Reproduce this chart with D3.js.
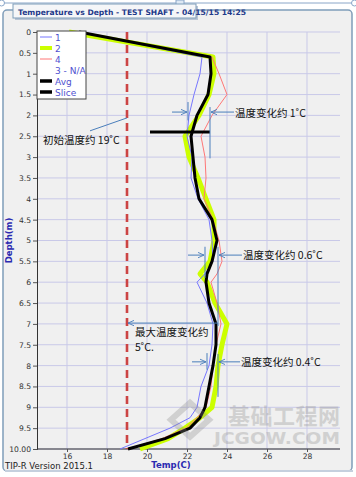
<!DOCTYPE html>
<html><head><meta charset="utf-8">
<script src="https://cdn.jsdelivr.net/npm/d3@7/dist/d3.min.js"></script>
<style>
html,body{margin:0;padding:0;background:#fff;}
svg{display:block;font-family:"DejaVu Sans",Verdana,sans-serif;}
</style></head>
<body><svg id="c" width="356" height="477"></svg>
<script>
// ---- data ----
const depths = [0, 0.6, 1.0, 1.5, 2.0, 2.5, 3.0, 3.5, 4.0, 4.5, 5.0, 5.5, 5.8, 6.0, 6.5, 7.0, 7.5, 8.0, 8.5, 9.0, 9.25, 9.5, 9.75, 10.0];
const series1 = [16.6, 22.75, 22.65, 22.35, 22.1, 22.0, 22.25, 22.2, 22.55, 23.1, 23.25, 23.3, 22.9, 22.5, 23.0, 23.3, 23.25, 23.1, 22.7, 22.5, 22.15, 21.15, 19.9, 18.65];
const series2 = [16.1, 23.3, 23.35, 23.1, 22.6, 21.9, 22.1, 22.55, 22.95, 23.35, 23.35, 23.15, 22.65, 23.0, 23.4, 24.0, 23.75, 23.55, 23.45, 23.25, 22.65, 21.9, 21.05, 19.65];
const series4 = [16.6, 23.25, 23.6, 24.0, 23.25, 22.7, 22.9, 22.95, 22.85, 23.3, 23.6, 23.75, 23.5, 23.2, 23.5, 23.7, 23.45, 23.3, 23.2, 22.95, 22.5, 21.95, 20.75, 19.05];
const avg     = [16.6, 23.15, 23.2, 23.05, 22.5, 22.2, 22.3, 22.4, 22.6, 23.25, 23.5, 23.25, 23.0, 22.95, 23.1, 23.45, 23.45, 23.3, 23.1, 22.9, 22.65, 22.15, 20.9, 19.05];
const sliceDepth = 2.4;
const sliceTemps = [20.15, 23.15];
const initialTemp = 19;
const xTicks = [16, 18, 20, 22, 24, 26, 28];
const yTicks = [0, 0.5, 1, 1.5, 2, 2.5, 3, 3.5, 4, 4.5, 5, 5.5, 6, 6.5, 7, 7.5, 8, 8.5, 9, 9.5, 10];
const legendItems = ["1", "2", "4", "3 - N/A", "Avg", "Slice"];
const titleText = "Temperature vs Depth - TEST SHAFT - 04/15/15 14:25";

const svg = d3.select("#c");
const W = 356, H = 477;
const m = {l: 37, r: 16, t: 32, b: 28};
const x = d3.scaleLinear().domain([14.5, 29.65]).range([m.l, W - m.r]);
const y = d3.scaleLinear().domain([0, 10]).range([m.t, H - m.b]);

// frame
svg.append("rect").attr("x", 0).attr("y", 0).attr("width", W).attr("height", H).attr("fill", "#fff");
svg.append("line").attr("x1", 0).attr("x2", W).attr("y1", 3).attr("y2", 3).attr("stroke", "#8aa6c8").attr("stroke-width", 1);
svg.append("rect").attr("x", 3).attr("y", 10).attr("width", 349).attr("height", 461).attr("rx", 4)
  .attr("fill", "#f0f0f0").attr("stroke", "#7f9db9").attr("stroke-width", 1.5);
svg.append("rect").attr("x", 5).attr("y", 470).attr("width", 348).attr("height", 2).attr("fill", "#c5d0de");
[[1.5, 3], [354.5, 3]].forEach(p => svg.append("circle").attr("cx", p[0]).attr("cy", p[1]).attr("r", 3).attr("fill", "#fff").attr("stroke", "#8aa6c8"));
svg.append("rect").attr("x", 176).attr("y", 0).attr("width", 8).attr("height", 7).attr("fill", "#dde8f4").attr("stroke", "#8aa6c8");

// title tab
svg.append("rect").attr("x", 15).attr("y", 6).attr("width", 183).attr("height", 14).attr("fill", "#b8c4d4");
svg.append("rect").attr("x", 13).attr("y", 4).attr("width", 183).attr("height", 14).attr("fill", "#f5f6f8").attr("stroke", "#7f9db9");
svg.append("text").attr("x", 18).attr("y", 14.5).attr("font-size", 7.6).attr("font-weight", "bold")
  .attr("fill", "#1f3a8a").text(titleText);

// gridlines
const g = svg.append("g");
g.selectAll(".hg").data(yTicks).join("line").attr("x1", m.l).attr("x2", W - m.r)
  .attr("y1", d => y(d)).attr("y2", d => y(d)).attr("stroke", "#c9c9e8").attr("stroke-width", 1);
g.selectAll(".vg").data(xTicks).join("line").attr("y1", m.t).attr("y2", H - m.b)
  .attr("x1", d => x(d)).attr("x2", d => x(d)).attr("stroke", "#c9c9e8").attr("stroke-width", 1);

// axes
const yAxis = d3.axisLeft(y).tickValues(yTicks).tickSize(4).tickPadding(2)
  .tickFormat(d => d === 10 ? "10.00" : d3.format("")(d));
const ya = svg.append("g").attr("transform", `translate(${m.l},0)`).call(yAxis);
const xAxis = d3.axisBottom(x).tickValues(xTicks).tickSize(3).tickPadding(1.5);
const xa = svg.append("g").attr("transform", `translate(0,${H - m.b})`).call(xAxis);
[ya, xa].forEach(a => {
  a.select(".domain").attr("stroke", "#333");
  a.selectAll(".tick line").attr("stroke", "#555");
  a.selectAll("text").attr("font-size", 7.6).attr("fill", "#333").attr("font-family", "DejaVu Sans, sans-serif");
});
xa.select(".domain").attr("d", `M${m.l},0H${W - m.r}`);

// axis titles
svg.append("text").attr("transform", `translate(12,${y(5)}) rotate(-90)`).attr("text-anchor", "middle")
  .attr("font-size", 8.5).attr("font-weight", "bold").attr("fill", "#2a2ab0").text("Depth(m)");
svg.append("text").attr("x", 171).attr("y", 468).attr("text-anchor", "middle")
  .attr("font-size", 8.5).attr("font-weight", "bold").attr("fill", "#2a2ab0").text("Temp(C)");
svg.append("text").attr("x", 5).attr("y", 469).attr("font-size", 8.5).attr("fill", "#222").text("TIP-R Version 2015.1");

// red dashed initial temperature
svg.append("line").attr("x1", x(initialTemp)).attr("x2", x(initialTemp)).attr("y1", y(0)).attr("y2", y(10))
  .attr("stroke", "#cc4444").attr("stroke-width", 2.6).attr("stroke-dasharray", "8,5");

// series lines
const line = vals => d3.line().x((d, i) => x(vals[i])).y(d => y(d))(depths);
svg.append("path").attr("d", line(series2)).attr("fill", "none").attr("stroke", "#ccff00").attr("stroke-width", 5).attr("stroke-linejoin", "round");
svg.append("path").attr("d", line(series1)).attr("fill", "none").attr("stroke", "#7777ff").attr("stroke-width", 1);
svg.append("path").attr("d", line(series4)).attr("fill", "none").attr("stroke", "#ff7777").attr("stroke-width", 1);
svg.append("path").attr("d", line(avg)).attr("fill", "none").attr("stroke", "#000").attr("stroke-width", 3).attr("stroke-linejoin", "round");
svg.append("line").attr("x1", x(sliceTemps[0])).attr("x2", x(sliceTemps[1])).attr("y1", y(sliceDepth)).attr("y2", y(sliceDepth))
  .attr("stroke", "#000").attr("stroke-width", 3);

// watermark
const wm = svg.append("g").attr("opacity", 0.3).attr("fill", "#888");
wm.append("path").attr("d", `M${x(21.2)},${y(9.3)} l19,-17 l19,17 l-19,17 z`).attr("fill", "none").attr("stroke", "#888").attr("stroke-width", 6);
wm.append("text").attr("x", 228).attr("y", y(9.4)).attr("font-size", 22).attr("font-weight", "bold")
  .attr("font-family", "Noto Sans CJK SC").attr("textLength", 112).text("基础工程网");
wm.append("text").attr("x", 214).attr("y", y(9.88)).attr("font-size", 15).attr("font-weight", "bold")
  .attr("font-family", "DejaVu Sans").attr("textLength", 126).attr("lengthAdjust", "spacingAndGlyphs").text("JCGOW.COM");

// legend
const lg = svg.append("g");
lg.append("rect").attr("x", 37).attr("y", 31).attr("width", 49).attr("height", 68).attr("fill", "#fff").attr("stroke", "#444");
const legStyles = [
  {c: "#7777ff", w: 1}, {c: "#ccff00", w: 4}, {c: "#ff7777", w: 1}, null, {c: "#000", w: 3.5}, {c: "#000", w: 3.5}
];
legendItems.forEach((t, i) => {
  const yy = 37 + i * 11;
  if (legStyles[i]) lg.append("line").attr("x1", 40).attr("x2", 52).attr("y1", yy).attr("y2", yy)
    .attr("stroke", legStyles[i].c).attr("stroke-width", legStyles[i].w);
  lg.append("text").attr("x", 55).attr("y", yy + 3.5).attr("font-size", 9).attr("fill", "#5050d0").text(t);
});

// annotations
const ac = "#4a7ebb";
const defs = svg.append("defs");
defs.append("marker").attr("id", "ah").attr("viewBox", "0 0 10 10").attr("refX", 9).attr("refY", 5)
  .attr("markerWidth", 7).attr("markerHeight", 7).attr("orient", "auto-start-reverse")
  .append("path").attr("d", "M0,1 L9,5 L0,9").attr("fill", "none").attr("stroke", ac).attr("stroke-width", 1.3);
const A = svg.append("g").attr("stroke", ac).attr("stroke-width", 1).attr("fill", "none");
const vline = (t, d1, d2) => A.append("line").attr("x1", x(t)).attr("x2", x(t)).attr("y1", y(d1)).attr("y2", y(d2));
const arrow = (t1, t2, d) => A.append("line").attr("x1", x(t1)).attr("x2", x(t2)).attr("y1", y(d)).attr("y2", y(d)).attr("marker-end", "url(#ah)");
const label = (t, d, s) => svg.append("text").attr("x", x(t)).attr("y", y(d)).attr("font-size", 10.5)
  .attr("font-family", "Noto Sans CJK SC, sans-serif").attr("fill", "#111").text(s);

// 1 deg
vline(22.05, 1.68, 2.12); vline(23.15, 1.8, 3.03);
arrow(21.25, 22.0, 1.92); arrow(24.35, 23.2, 1.92);
label(24.4, 2.03, "温度变化约 1˚C");
// 0.6
vline(22.9, 5.15, 5.9); vline(23.55, 5.15, 7.05);
arrow(22.05, 22.85, 5.35); arrow(24.75, 23.6, 5.35);
label(24.8, 5.45, "温度变化约 0.6˚C");
// 5 deg
A.append("line").attr("x1", x(23.55)).attr("x2", x(19.05)).attr("y1", y(6.98)).attr("y2", y(6.98)).attr("marker-end", "url(#ah)");
label(19.4, 7.3, "最大温度变化约");
label(19.4, 7.65, "5˚C.");
// 0.4
vline(23.0, 7.7, 8.1); vline(23.55, 7.72, 8.75);
arrow(22.25, 22.95, 7.91); arrow(24.65, 23.6, 7.91);
label(24.7, 8.02, "温度变化约 0.4˚C");
// initial
A.append("line").attr("x1", x(17.15)).attr("y1", y(2.37)).attr("x2", x(19.0)).attr("y2", y(2.06));
label(14.8, 2.68, "初始温度约 19˚C");
</script></body></html>
